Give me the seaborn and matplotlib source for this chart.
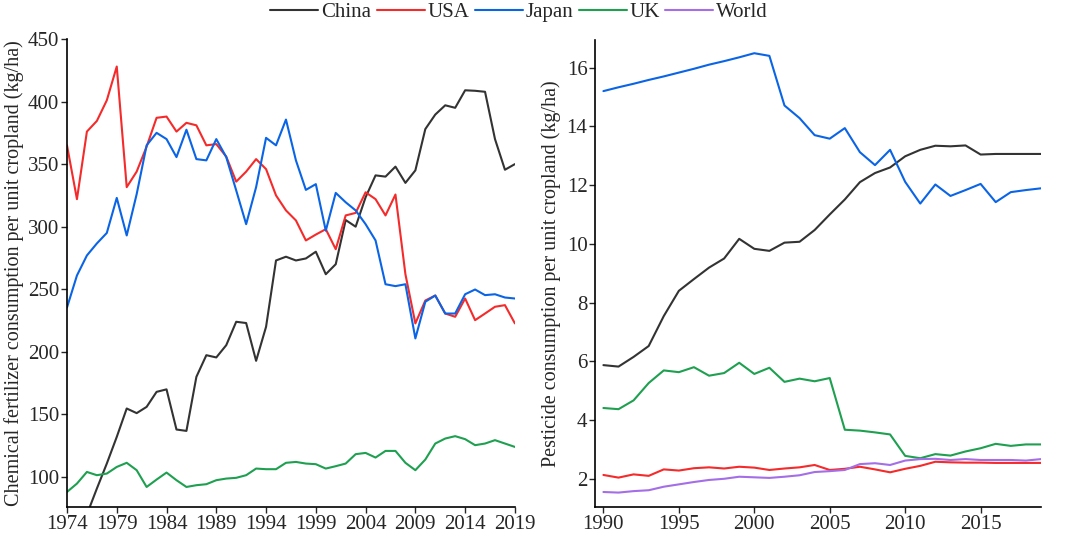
import pandas as pd
import seaborn as sns
import matplotlib.pyplot as plt

# Fertilizer data (kg/ha), 1974-2019
fert_years = list(range(1974, 2020))
fert_china = [45, 57, 70, 90.7, 110.7, 132, 154.7, 151, 156, 168, 170, 137.9, 136.8, 180,
              197.3, 195.5, 205.3, 224, 223, 192.8, 220, 273, 276, 273, 274.6, 280, 262,
              270, 305.3, 300, 323.5, 341, 340, 348, 335, 345, 378, 389.6, 397, 395, 409,
              408.6, 407.8, 370, 345.5, 350]
fert_usa = [365, 322, 376, 384.5, 401, 428, 331.6, 344, 364, 387, 388, 376, 383, 381, 365,
            366, 356, 336, 344, 354, 346, 325, 313, 305, 289, 293.7, 298, 282, 309, 311,
            327.5, 322, 309, 325.7, 262, 222.7, 241, 245, 230.6, 228, 242.6, 225.3, 230.6,
            236, 237.3, 222.7]
fert_japan = [235.4, 261, 277, 286.6, 295, 323, 293, 326, 365, 375, 370, 355.6, 377.5, 354,
              353, 370, 355.6, 329, 302, 331.6, 371, 365, 385.6, 353, 329.4, 334, 296.8, 327,
              319.5, 313, 302, 289, 254, 252.5, 254, 210.7, 240, 245, 230.6, 230.6, 246,
              249.8, 245.3, 246, 243.4, 242.6]
fert_uk = [88, 94.7, 104, 101.4, 102.7, 108, 111.3, 105.4, 92, 97.9, 103.5, 97.4, 92, 93.4,
           94.2, 97.4, 98.7, 99.3, 101.4, 106.7, 106.2, 106.2, 111.3, 112, 110.7, 110.2,
           106.7, 108.6, 110.7, 118.2, 119.2, 115.5, 120.8, 120.8, 111.3, 105.4, 113.9,
           126.7, 130.7, 132.6, 130.2, 125.4, 126.7, 129.4, 126.7, 124]

# Pesticide data (kg/ha), 1990-2019
pest_years = list(range(1990, 2020))
pest_china = [5.87, 5.82, 6.15, 6.52, 7.54, 8.4, 8.8, 9.19, 9.5, 10.17, 9.83, 9.76, 10.04,
              10.07, 10.47, 11.0, 11.51, 12.1, 12.41, 12.6, 12.98, 13.2, 13.34, 13.32, 13.35,
              13.04, 13.06, 13.06, 13.06, 13.06]
pest_usa = [2.13, 2.04, 2.15, 2.1, 2.32, 2.28, 2.36, 2.39, 2.35, 2.41, 2.38, 2.3, 2.35, 2.39,
            2.47, 2.3, 2.34, 2.41, 2.32, 2.22, 2.34, 2.44, 2.58, 2.56, 2.55, 2.55, 2.54,
            2.54, 2.54, 2.54]
pest_japan = [15.2, 15.33, 15.45, 15.58, 15.7, 15.83, 15.96, 16.1, 16.22, 16.35, 16.49, 16.4,
              14.71, 14.28, 13.7, 13.58, 13.94, 13.12, 12.68, 13.2, 12.11, 11.37, 12.02,
              11.63, 11.83, 12.04, 11.42, 11.76, 11.83, 11.89]
pest_uk = [4.41, 4.37, 4.67, 5.26, 5.69, 5.63, 5.8, 5.51, 5.6, 5.95, 5.57, 5.78, 5.3, 5.41,
           5.32, 5.43, 3.67, 3.64, 3.58, 3.51, 2.78, 2.7, 2.84, 2.79, 2.93, 3.04, 3.19, 3.12,
           3.17, 3.17]
pest_world = [1.55, 1.53, 1.58, 1.61, 1.73, 1.81, 1.89, 1.96, 2.0, 2.07, 2.05, 2.03, 2.07,
              2.12, 2.23, 2.26, 2.3, 2.5, 2.53, 2.47, 2.62, 2.67, 2.68, 2.64, 2.67, 2.64,
              2.64, 2.64, 2.62, 2.67]

countries = ['China', 'USA', 'Japan', 'UK', 'World']
colors = {'China': '#333333', 'USA': '#f52a2a', 'Japan': '#0a64e6',
          'UK': '#1ea050', 'World': '#a46ee6'}

# long-form tables
fert = pd.concat([
    pd.DataFrame({'year': fert_years, 'value': v, 'country': c})
    for c, v in zip(['China', 'USA', 'Japan', 'UK'], [fert_china, fert_usa, fert_japan, fert_uk])
])
pest = pd.concat([
    pd.DataFrame({'year': pest_years, 'value': v, 'country': c})
    for c, v in zip(countries, [pest_china, pest_usa, pest_japan, pest_uk, pest_world])
])

sns.set_style('ticks')
plt.rcParams['font.family'] = ['Liberation Serif', 'DejaVu Serif']
plt.rcParams['font.size'] = 15

fig = plt.figure(figsize=(10.84, 5.34), dpi=100)
ax1 = fig.add_axes([0.0618, 0.0506, 0.4132, 0.8764])
ax2 = fig.add_axes([0.549, 0.0506, 0.4113, 0.8745])

sns.lineplot(data=fert, x='year', y='value', hue='country', palette=colors,
             linewidth=1.5, ax=ax1, legend=False)
sns.lineplot(data=pest, x='year', y='value', hue='country', hue_order=countries,
             palette=colors, linewidth=1.5, ax=ax2)

ax1.set_xlim(1974, 2019)
ax1.set_ylim(76, 450)
ax1.set_xticks(range(1974, 2020, 5))
ax1.set_yticks(range(100, 451, 50))
ax1.set_xlabel('')
ax1.set_ylabel('Chemical fertilizer consumption per unit cropland (kg/ha)',
               fontsize=14.5, labelpad=3)

ax2.set_xlim(1989.45, 2019)
ax2.set_ylim(1.04, 16.94)
ax2.set_xticks(range(1990, 2020, 5))
ax2.set_yticks(range(2, 17, 2))
ax2.set_xlabel('')
ax2.set_ylabel('Pesticide consumption per unit cropland (kg/ha)', fontsize=14.5, labelpad=4)

for ax in (ax1, ax2):
    sns.despine(ax=ax)
    ax.tick_params(length=4, width=1, pad=1.5, labelsize=15)
    for s in ('left', 'bottom'):
        ax.spines[s].set_linewidth(1.2)
        ax.spines[s].set_color('black')

handles, labels = ax2.get_legend_handles_labels()
ax2.get_legend().remove()
fig.legend(handles, labels, loc='center', bbox_to_anchor=(0.479, 0.977), ncol=5,
           frameon=False, fontsize=15, handlelength=2.3, handletextpad=0.15,
           columnspacing=0.25, borderpad=0)

fig.savefig('out.png', dpi=100)
